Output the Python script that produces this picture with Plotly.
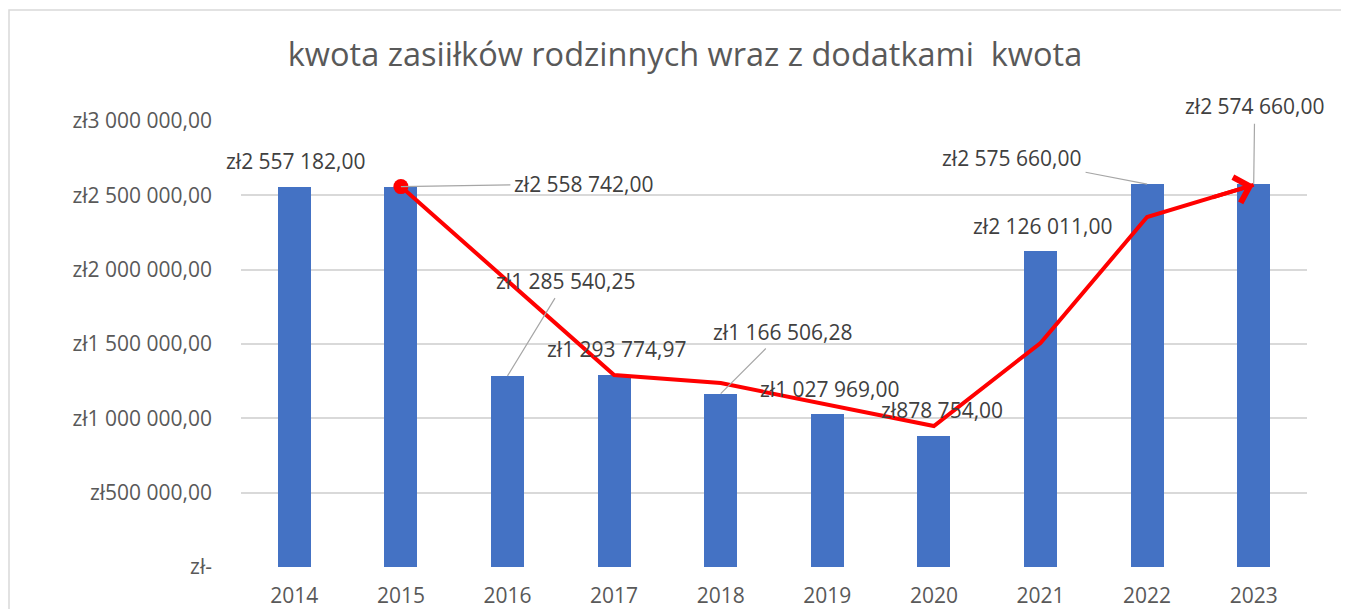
import plotly.graph_objects as go

years = [2014, 2015, 2016, 2017, 2018, 2019, 2020, 2021, 2022, 2023]
values = [2557182.00, 2558742.00, 1285540.25, 1293774.97, 1166506.28,
          1027969.00, 878754.00, 2126011.00, 2575660.00, 2574660.00]
labels = ["zł2 557 182,00", "zł2 558 742,00", "zł1 285 540,25", "zł1 293 774,97",
          "zł1 166 506,28", "zł1 027 969,00", "zł878 754,00", "zł2 126 011,00",
          "zł2 575 660,00", "zł2 574 660,00"]

y_tickvals = [0, 500000, 1000000, 1500000, 2000000, 2500000, 3000000]
y_ticktext = ["zł-", "zł500 000,00", "zł1 000 000,00", "zł1 500 000,00",
              "zł2 000 000,00", "zł2 500 000,00", "zł3 000 000,00"]

# hand-drawn red trend annotation
trend_years = [2015, 2017, 2018, 2020, 2021, 2022, 2023]
trend_values = [2558742, 1291000, 1237000, 948000, 1507000, 2354000, 2570000]

title_text = "kwota zasiiłków rodzinnych wraz z dodatkami\u00a0\u00a0kwota"

FONT = "Open Sans"
FS = 21
BAR = "#4472C4"
LABEL = "#404040"
TICK = "#595959"

# page body has an 8px margin; compensate so the plot area lands at x 241..1307, y 121..567
OFF = 8
W, H = 1349 - OFF, 609 - OFF
ML, MR, MT, MB = 241 - OFF, 42, 121 - OFF, 42
PW, PH = 1066, 446

fig = go.Figure()
fig.add_trace(go.Bar(x=years, y=values, width=0.31, marker=dict(color=BAR, line=dict(width=0)),
                     hoverinfo="skip", showlegend=False))
fig.add_trace(go.Scatter(x=trend_years, y=trend_values, mode="lines+markers",
                         line=dict(color="#FF0000", width=4),
                         marker=dict(size=[15] + [0] * (len(trend_years) - 1), color="#FF0000",
                                     line=dict(width=0), opacity=1),
                         hoverinfo="skip", showlegend=False))

# label placement: (mode, dx, dy) ; mode 'shift' -> no leader, 'lead' -> leader line
place = {
    2014: ("shift", 2, 26),
    2015: ("lead", 183, -3),
    2016: ("lead", 58, -95),
    2017: ("shift", 3, 26),
    2018: ("lead", 62, -62),
    2019: ("shift", 3, 25),
    2020: ("shift", 8, 26),
    2021: ("shift", 2, 25),
    2022: ("lead", -135, -26),
    2023: ("lead", 1, -78),
}
annotations = []
for yr, v, t in zip(years, values, labels):
    mode, dx, dy = place[yr]
    if mode == "shift":
        annotations.append(dict(x=yr, y=v, xref="x", yref="y", text=t, showarrow=False,
                                xshift=dx, yshift=dy, font=dict(family=FONT, size=FS, color=LABEL)))
    else:
        annotations.append(dict(x=yr, y=v, xref="x", yref="y", text=t, showarrow=True,
                                ax=dx, ay=dy, arrowhead=0, arrowwidth=1.2, arrowcolor="#a6a6a6",
                                standoff=0, startstandoff=2,
                                font=dict(family=FONT, size=FS, color=LABEL)))

# open chevron arrowhead at the end of the red line
annotations.append(dict(x=trend_years[-1], y=trend_values[-1], xref="x", yref="y",
                        ax=trend_years[-2] + 0.6, ay=trend_values[-2] + (trend_values[-1] - trend_values[-2]) * 0.6,
                        axref="x", ayref="y", text="", showarrow=True,
                        arrowhead=4, arrowsize=1.3, arrowwidth=4, arrowcolor="#FF0000"))

fig.update_layout(
    width=W, height=H,
    margin=dict(l=ML, r=MR, t=MT, b=MB, autoexpand=False),
    paper_bgcolor="white", plot_bgcolor="white",
    title=dict(text=title_text, x=(685 - 241) / PW, xref="paper", xanchor="center",
               y=1 - (55 - OFF) / H, yref="container", yanchor="middle",
               font=dict(family=FONT, size=32.5, color=TICK)),
    annotations=annotations,
    shapes=[dict(type="rect", xref="paper", yref="paper",
                 x0=(9 - 241) / PW, x1=(1370 - 241) / PW,
                 y0=(567 - 650) / PH, y1=(567 - 10) / PH,
                 line=dict(color="#d9d9d9", width=1.5), fillcolor="rgba(0,0,0,0)", layer="below")],
    xaxis=dict(range=[2013.5, 2023.5], tickmode="array", tickvals=years,
               ticktext=[str(y) for y in years], showgrid=False, zeroline=False,
               showline=False, ticks="", ticklabelstandoff=14, automargin=False,
               tickfont=dict(family=FONT, size=FS, color=TICK), fixedrange=True),
    yaxis=dict(range=[0, 3000000], tickmode="array", tickvals=y_tickvals, ticktext=y_ticktext,
               showgrid=True, gridcolor="#d9d9d9", gridwidth=1.5, zeroline=False, showline=False,
               ticks="", ticklabelstandoff=28, automargin=False,
               tickfont=dict(family=FONT, size=FS, color=TICK), fixedrange=True),
    bargap=0,
)

fig.write_html("out.html")
